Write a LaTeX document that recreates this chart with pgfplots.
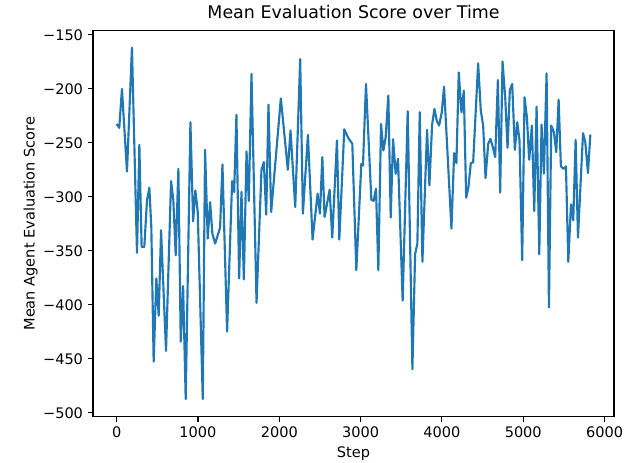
\documentclass[border=0pt]{standalone}
\usepackage{pgfplots}
\pgfplotsset{compat=1.18}
\usepackage{fontspec}
\setmainfont{DejaVu Sans}
\definecolor{mplblue}{RGB}{31,119,180}

\pgfplotstableread{
step score
0 -232.5
32 -236.1
65 -200.2
127 -276.5
188 -162.0
250 -351.8
279 -251.8
307 -346.3
340 -346.3
373 -303.2
402 -291.5
426 -327.8
455 -452.5
488 -375.5
517 -410.0
546 -330.9
607 -442.6
669 -285.4
697 -303.2
726 -354.0
759 -274.0
788 -434.0
817 -382.6
849 -487.2
907 -230.9
940 -322.6
968 -294.0
997 -314.0
1059 -487.2
1087 -256.5
1120 -338.6
1149 -304.8
1177 -334.0
1211 -343.2
1272 -328.5
1301 -270.0
1358 -424.8
1420 -285.4
1445 -295.5
1473 -224.1
1506 -375.5
1535 -295.5
1564 -376.5
1597 -258.0
1625 -303.8
1658 -186.3
1720 -398.0
1781 -274.9
1810 -267.8
1839 -316.5
1867 -214.6
1900 -314.0
2019 -208.8
2105 -274.9
2138 -238.6
2196 -309.4
2257 -172.5
2290 -315.5
2352 -242.6
2409 -339.5
2471 -297.1
2500 -315.5
2529 -263.2
2557 -318.6
2619 -293.4
2651 -337.7
2709 -247.8
2738 -339.5
2799 -237.4
2844 -244.8
2898 -250.9
2947 -367.8
3009 -269.4
3029 -270.9
3066 -195.5
3132 -302.6
3160 -303.8
3189 -292.5
3218 -367.8
3251 -232.5
3280 -257.1
3308 -244.8
3341 -206.3
3370 -319.2
3399 -246.6
3431 -278.6
3460 -264.8
3517 -396.1
3579 -220.8
3637 -459.5
3670 -353.1
3698 -343.2
3727 -221.7
3760 -360.1
3817 -238.0
3846 -289.4
3879 -233.1
3908 -218.6
3936 -229.4
3965 -234.0
3998 -221.7
4026 -198.0
4117 -329.4
4150 -259.5
4178 -268.8
4207 -184.8
4240 -221.7
4269 -201.7
4298 -300.8
4326 -290.9
4355 -268.8
4384 -268.1
4445 -176.5
4478 -220.1
4507 -234.0
4536 -282.6
4569 -250.9
4597 -246.3
4626 -254.0
4655 -263.2
4688 -191.8
4716 -296.1
4745 -174.6
4778 -207.8
4807 -254.6
4835 -201.1
4864 -195.5
4897 -256.5
4926 -230.9
4954 -247.8
4987 -358.6
5016 -207.8
5045 -226.3
5073 -265.7
5106 -234.0
5135 -313.1
5164 -216.5
5197 -353.1
5225 -233.1
5254 -278.6
5287 -185.7
5316 -402.3
5344 -234.0
5377 -240.1
5406 -258.6
5435 -210.0
5463 -271.8
5496 -274.0
5525 -271.8
5554 -360.1
5587 -306.9
5615 -321.7
5644 -247.2
5673 -337.7
5735 -241.1
5763 -249.4
5796 -278.0
5825 -242.3
}\evalscores

\begin{document}
\begin{tikzpicture}
\path[use as bounding box] (0,0) rectangle (6.36in,4.62in);
\begin{axis}[
  at={(0.93in,0.453in)}, anchor=south west,
  scale only axis,
  width=5.21in, height=3.862in,
  xmin=-291, xmax=6116,
  ymin=-503.5, ymax=-146,
  axis line style={line width=0.8pt},
  tick align=outside,
  tick pos=left,
  major tick length=3.7pt,
  every tick/.style={line width=0.8pt, black},
  xtick={0,1000,2000,3000,4000,5000,6000},
  xticklabels={0,1000,2000,3000,4000,5000,6000},
  ytick={-500,-450,-400,-350,-300,-250,-200,-150},
  yticklabels={−500,−450,−400,−350,−300,−250,−200,−150},
  ticklabel style={font=\fontsize{10.5}{12}\selectfont},
  title={Mean Evaluation Score over Time},
  title style={font=\fontsize{12.6}{14}\selectfont, yshift=-1pt},
  xlabel={Step},
  ylabel={Mean Agent Evaluation Score},
  label style={font=\fontsize{10.5}{12}\selectfont},
  ylabel style={yshift=-3pt},
]
\addplot[mplblue, line width=1.55pt, line join=round] table[x=step, y=score] {\evalscores};
\end{axis}
\end{tikzpicture}
\end{document}
